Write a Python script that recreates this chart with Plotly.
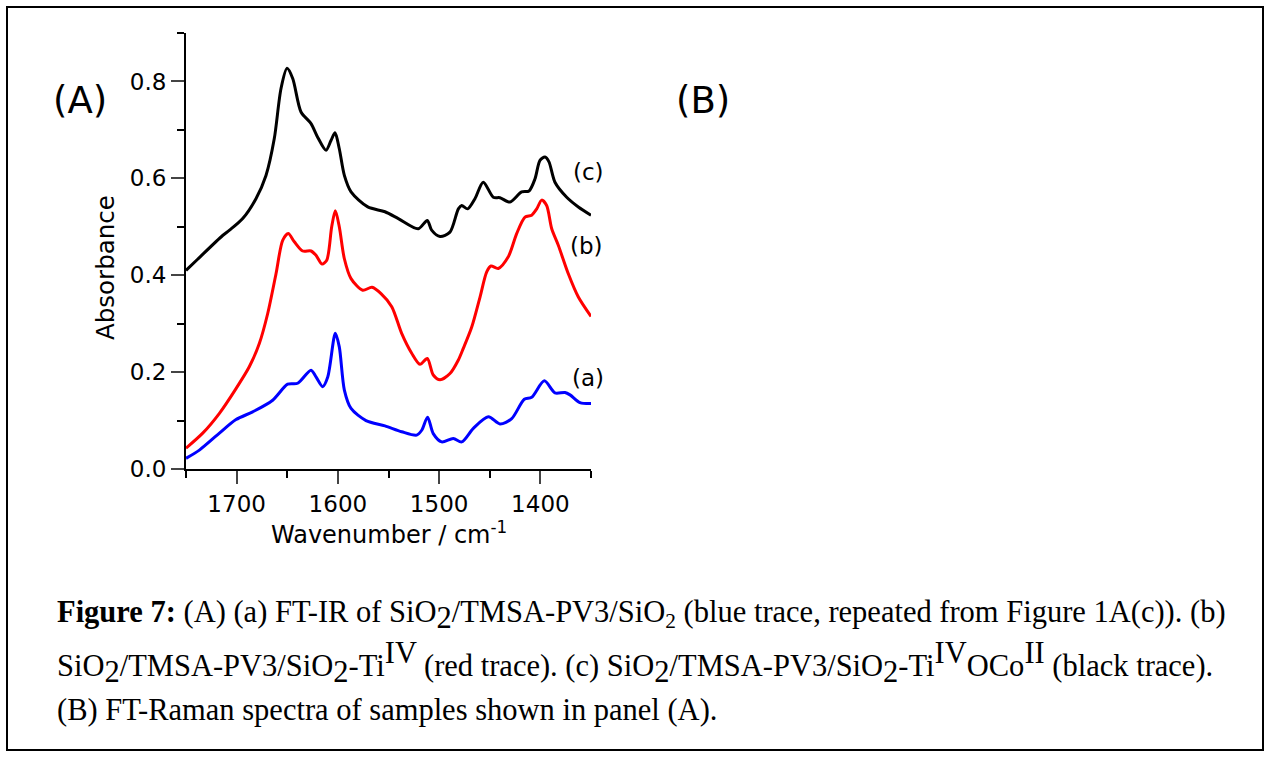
import plotly.graph_objects as go

# ---- data ----
wn_c = [1750, 1738.5, 1713.8, 1707, 1694, 1680.9, 1671, 1662.8, 1656.2, 1650.2, 1644.6, 1636.4,
        1626.5, 1620, 1611.7, 1606.8, 1602.8, 1598.6, 1593.6, 1587, 1570.5, 1553.5, 1540.3,
        1520.6, 1511.7, 1507.4, 1499.1, 1489.3, 1481, 1477.7, 1471.8, 1464.6, 1456.4, 1446.5,
        1439.9, 1430, 1418.5, 1411.2, 1405.3, 1400.4, 1395.4, 1391.5, 1385.6, 1374, 1362.5, 1350]
abs_c = [0.410, 0.433, 0.482, 0.493, 0.517, 0.558, 0.606, 0.682, 0.785, 0.827, 0.806, 0.737,
         0.713, 0.685, 0.658, 0.678, 0.694, 0.661, 0.606, 0.572, 0.541, 0.531, 0.517,
         0.496, 0.513, 0.493, 0.480, 0.489, 0.537, 0.544, 0.537, 0.558, 0.592, 0.561,
         0.560, 0.551, 0.572, 0.574, 0.599, 0.637, 0.644, 0.634, 0.592, 0.561, 0.541, 0.524]

wn_b = [1750, 1733.5, 1717, 1700.6, 1687.5, 1677.6, 1669.3, 1661.1, 1654.5, 1649, 1643, 1634.8,
        1626.5, 1621.6, 1615.7, 1611, 1606.1, 1602.5, 1598.6, 1593.6, 1587, 1575.5, 1566.3,
        1557.4, 1546.8, 1537, 1527.1, 1518.9, 1511.7, 1505.8, 1499.1, 1489.3, 1481, 1476.1,
        1467.8, 1459.6, 1453, 1448.8, 1441.6, 1431.7, 1423.4, 1415.2, 1408.6, 1403.6, 1398.7,
        1393.8, 1388.8, 1382.3, 1372.4, 1362.5, 1350]
abs_b = [0.043, 0.074, 0.115, 0.166, 0.211, 0.259, 0.321, 0.403, 0.472, 0.486, 0.469, 0.450,
         0.450, 0.441, 0.423, 0.431, 0.500, 0.533, 0.500, 0.434, 0.393, 0.369, 0.375,
         0.362, 0.335, 0.280, 0.239, 0.216, 0.228, 0.194, 0.184, 0.197, 0.225, 0.249,
         0.293, 0.355, 0.407, 0.419, 0.414, 0.438, 0.486, 0.520, 0.524, 0.537, 0.555,
         0.544, 0.496, 0.462, 0.403, 0.355, 0.315]

wn_a = [1750, 1736.8, 1717, 1700.6, 1684.1, 1664.4, 1649.6, 1639.7, 1626.5, 1621.6, 1615, 1610,
        1602.5, 1598.6, 1593.6, 1587, 1572.2, 1553.5, 1537, 1522.2, 1517.2, 1511.4, 1505.8,
        1497.5, 1486, 1477.7, 1466.2, 1451.4, 1439.9, 1428.3, 1415.9, 1408.6, 1396.1, 1385.6,
        1375.7, 1370.7, 1360.9, 1350]
abs_a = [0.022, 0.039, 0.074, 0.102, 0.118, 0.142, 0.175, 0.177, 0.204, 0.190, 0.170, 0.190,
         0.280, 0.252, 0.163, 0.125, 0.100, 0.089, 0.077, 0.070, 0.080, 0.107, 0.073,
         0.056, 0.063, 0.056, 0.084, 0.108, 0.093, 0.104, 0.144, 0.148, 0.182, 0.157,
         0.158, 0.153, 0.137, 0.135]

x_ticks = [1700, 1600, 1500, 1400]
y_ticks = [0.0, 0.2, 0.4, 0.6, 0.8]

# ---- pixel -> paper helpers (plot area 186..591 x 33..469) ----
L, R, T, B = 186, 591, 33, 469
def px(x):
    return (x - L) / (R - L)
def py(y):
    return (B - y) / (B - T)

fig = go.Figure()
for wn, ab, col in [(wn_a, abs_a, "#0000ff"), (wn_b, abs_b, "#ff0000"), (wn_c, abs_c, "#000000")]:
    fig.add_trace(go.Scatter(x=wn, y=ab, mode="lines",
                             line=dict(color=col, width=3, shape="spline", smoothing=0.8),
                             showlegend=False, hoverinfo="skip"))

sans = "DejaVu Sans"
fig.update_layout(
    width=1270, height=757,
    margin=dict(l=L, r=1270 - R, t=T, b=757 - B),
    paper_bgcolor="white", plot_bgcolor="white",
    font=dict(family=sans, size=22, color="black"),
    xaxis=dict(range=[1750, 1350], tickvals=x_ticks, ticks="outside", ticklen=13, tickwidth=2,
               showline=True, linecolor="black", linewidth=2, showgrid=False, zeroline=False,
               tickfont=dict(family=sans, size=23),
               minor=dict(dtick=50, tick0=1350, ticks="outside", ticklen=7, tickwidth=2, tickcolor="black")),
    yaxis=dict(range=[0, 0.9], tickvals=y_ticks, tickformat=".1f", ticks="outside", ticklen=13, tickwidth=2,
               showline=True, linecolor="black", linewidth=2, showgrid=False, zeroline=False,
               tickfont=dict(family=sans, size=23),
               minor=dict(dtick=0.1, tick0=0, ticks="outside", ticklen=7, tickwidth=2, tickcolor="black")),
)

ann = []
ann.append(dict(x=px(389), y=py(533), text="Wavenumber / cm<sup>-1</sup>", font=dict(size=24)))
ann.append(dict(x=px(105), y=py(268), text="Absorbance", textangle=-90, font=dict(size=24.5)))
ann.append(dict(x=px(80), y=py(100), text="(A)", font=dict(size=37)))
ann.append(dict(x=px(703), y=py(100), text="(B)", font=dict(size=37)))
ann.append(dict(x=px(588), y=py(172), text="(c)", font=dict(size=23)))
ann.append(dict(x=px(586), y=py(246), text="(b)", font=dict(size=23)))
ann.append(dict(x=px(588), y=py(378), text="(a)", font=dict(size=23)))

serif = "Liberation Serif"
cs = 30.5
big2 = '<sub><span style="font-size:%spx">2</span></sub>' % cs
bigsup = lambda s: '<sup><span style="font-size:%spx">%s</span></sup>' % (cs, s)
cap1 = ("<b>Figure 7:</b> (A) (a) FT-IR of SiO" + big2 + "/TMSA-PV3/SiO<sub>2</sub> "
        "(blue trace, repeated from Figure 1A(c)). (b)")
cap2 = ("SiO" + big2 + "/TMSA-PV3/SiO" + big2 + "-Ti" + bigsup("IV") + " (red trace). (c) SiO" + big2 +
        "/TMSA-PV3/SiO" + big2 + "-Ti" + bigsup("IV") + "OCo" + bigsup("II") + " (black trace).")
cap3 = "(B) FT-Raman spectra of samples shown in panel (A)."
for txt, yy in [(cap1, 615), (cap2, 662), (cap3, 710)]:
    ann.append(dict(x=px(55), y=py(yy), text=txt, xanchor="left", yanchor="middle",
                    font=dict(family=serif, size=cs)))

for a in ann:
    a.setdefault("xanchor", "center")
    a.setdefault("yanchor", "middle")
    a.update(xref="paper", yref="paper", showarrow=False)
fig.update_layout(annotations=ann)

fig.add_shape(type="rect", xref="paper", yref="paper",
              x0=px(7), x1=px(1263), y0=py(7), y1=py(750),
              line=dict(color="black", width=2), layer="below")

fig.write_html("out.html")
